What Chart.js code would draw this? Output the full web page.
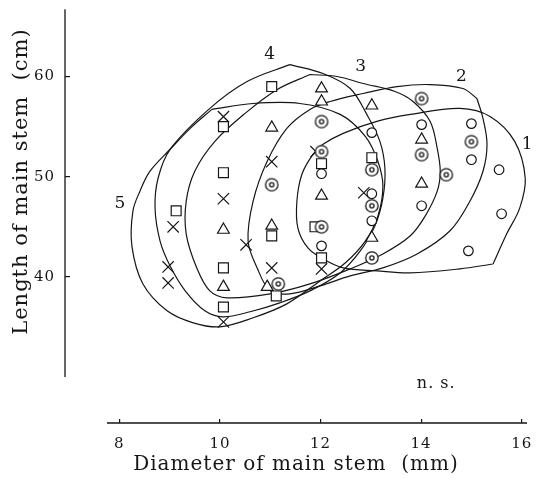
<!DOCTYPE html>
<html>
<head>
<meta charset="utf-8">
<script src="https://cdn.jsdelivr.net/npm/chart.js@4.4.0/dist/chart.umd.min.js"></script>
<style>
  html, body { margin: 0; padding: 0; background: #fff; }
  #wrap { width: 540px; height: 480px; }
</style>
</head>
<body>
<div id="wrap"><canvas id="stemChart"></canvas></div>
<script>
const xTicks = [8, 10, 12, 14, 16];
const yTicks = [40, 50, 60];

// [diameter of main stem (mm), length of main stem (cm)] per group
const group1 = [[12.02, 50.3], [12.02, 43.1], [13.02, 54.4], [13.02, 48.3], [13.02, 45.6], [14.01, 55.2],
  [14.01, 47.1], [15.0, 55.3], [15.0, 51.7], [14.94, 42.6], [15.55, 50.7], [15.6, 46.3]];
const group2 = [[11.16, 39.3], [12.02, 55.5], [12.02, 52.5], [12.02, 45.0], [13.02, 50.7], [13.02, 47.1],
  [13.02, 41.9], [14.01, 57.8], [14.01, 52.2], [14.5, 50.2], [15.0, 53.5], [11.03, 49.2]];
const group3 = [[12.02, 58.8], [12.02, 57.5], [12.02, 48.1], [13.02, 57.1], [13.02, 43.9], [14.01, 53.7],
  [14.01, 49.3], [11.03, 54.9], [11.03, 45.1], [10.94, 39.0], [10.07, 44.7], [10.07, 39.0]];
const group4 = [[11.03, 59.0], [10.07, 55.0], [10.07, 50.4], [10.07, 40.9], [10.07, 37.0], [11.03, 44.1],
  [11.12, 38.1], [12.02, 51.3], [11.89, 45.0], [12.02, 41.9], [13.02, 51.9], [9.13, 46.6]];
const group5 = [[10.07, 56.0], [10.07, 47.8], [10.07, 35.5], [11.03, 51.5], [11.03, 40.9], [11.91, 52.5],
  [12.02, 40.8], [12.86, 48.4], [9.07, 45.0], [8.97, 41.0], [8.97, 39.4], [10.52, 43.2]];

// hand drawn outlines round each group
const outline1 = [[15.43, 41.29], [14.77, 40.8], [13.78, 40.4], [13.12, 40.6], [12.45, 40.9], [12.05, 41.79],
  [11.75, 42.89], [11.55, 44.88], [11.53, 47.56], [11.63, 50.25], [11.85, 52.24], [12.05, 53.23], [12.45, 54.33],
  [13.12, 55.52], [13.79, 56.22], [14.77, 56.82], [15.37, 56.02], [15.86, 53.53], [16.07, 49.85], [15.96, 46.87],
  [15.7, 44.28]];
const outline2 = [[15.11, 57.81], [15.23, 55.82], [15.31, 53.23], [15.23, 50.55], [14.97, 47.56], [14.57, 44.58],
  [13.92, 42.29], [13.24, 40.9], [12.59, 40.1], [11.99, 39.1], [11.39, 38.31], [11.0, 38.61], [10.74, 40.9],
  [10.56, 43.58], [10.66, 47.56], [10.94, 51.54], [11.33, 54.83], [11.79, 56.72], [12.19, 57.51], [12.85, 58.31],
  [13.52, 59.0], [14.18, 59.2], [14.83, 58.81]];
const outline3 = [[11.79, 60.2], [12.33, 60.0], [12.85, 59.3], [13.48, 58.51], [13.84, 57.51], [14.18, 55.52],
  [14.32, 52.84], [14.38, 50.55], [14.32, 48.56], [14.08, 46.07], [13.78, 44.08], [13.24, 42.29], [12.59, 40.8],
  [11.79, 39.3], [11.0, 38.31], [10.14, 37.91], [9.8, 38.61], [9.54, 40.9], [9.33, 44.28], [9.33, 47.56],
  [9.5, 50.55], [9.9, 53.53], [10.5, 56.32], [11.14, 58.71]];
const outline4 = [[11.39, 61.19], [12.05, 60.3], [12.59, 58.81], [12.92, 56.22], [13.18, 53.53], [13.28, 50.85],
  [13.24, 47.86], [13.08, 45.07], [12.79, 42.59], [12.39, 40.4], [11.79, 38.61], [11.19, 37.41], [10.6, 36.52],
  [10.06, 36.02], [9.7, 36.62], [9.31, 38.61], [9.01, 41.09], [8.81, 43.58], [8.71, 46.87], [8.77, 49.85],
  [9.01, 52.74], [9.8, 56.82], [10.54, 59.5]];
const outline5 = [[9.84, 56.72], [10.66, 57.31], [11.59, 57.31], [12.39, 56.22], [12.89, 54.03], [13.14, 51.54],
  [13.24, 49.05], [13.14, 46.07], [12.89, 43.58], [12.49, 41.39], [11.99, 39.6], [11.33, 37.31], [10.66, 35.92],
  [10.0, 35.02], [9.47, 35.42], [8.95, 36.62], [8.47, 39.3], [8.25, 43.08], [8.27, 46.57], [8.41, 48.56],
  [8.61, 50.55], [9.01, 52.74], [9.41, 54.83]];

const groupNames = ['1', '2', '3', '4', '5'];

const ink = '#161616';
const serif = 'DejaVu Serif';

function ringedDot() {
  const c = document.createElement('canvas');
  c.width = 16;
  c.height = 16;
  const g = c.getContext('2d');
  g.strokeStyle = ink;
  g.fillStyle = '#fff';
  g.lineWidth = 1.3;
  g.beginPath();
  g.arc(8, 8, 6.2, 0, Math.PI * 2);
  g.fill();
  g.stroke();
  g.beginPath();
  g.arc(8, 8, 2.1, 0, Math.PI * 2);
  g.stroke();
  return c;
}

const toXY = (pts) => pts.map(([x, y]) => ({ x, y }));

const markerSets = [
  { pts: group1, style: 'circle', r: 4.8 },
  { pts: group2, style: ringedDot(), r: 6.3 },
  { pts: group3, style: 'triangle', r: 6.8 },
  { pts: group4, style: 'rect', r: 7 },
  { pts: group5, style: 'crossRot', r: 8 },
];
const outlines = [outline1, outline2, outline3, outline4, outline5];

const datasets = [];
markerSets.forEach((m, i) => {
  datasets.push({
    label: 'group ' + groupNames[i],
    data: toXY(m.pts),
    pointStyle: m.style,
    pointRadius: m.r,
    pointBorderColor: ink,
    pointBackgroundColor: '#fff',
    pointBorderWidth: 1.2,
    showLine: false,
  });
});
outlines.forEach((o, i) => {
  datasets.push({
    type: 'line',
    label: 'outline ' + groupNames[i],
    data: toXY(o.concat([o[0]])),
    borderColor: ink,
    borderWidth: 1.2,
    pointRadius: 0,
    tension: 0.35,
    fill: false,
  });
});

// where the outline numbers and the note sit, in axis units
const nameAt = [[16.12, 53.2], [14.81, 60.0], [12.81, 61.0], [11.0, 62.2], [8.02, 47.3]];

const frame = {
  id: 'frame',
  beforeDraw(chart) {
    chart.ctx.letterSpacing = '1px';
  },
  afterDatasetsDraw(chart) {
    const { ctx, chartArea, scales: { x, y } } = chart;
    ctx.save();
    ctx.strokeStyle = ink;
    ctx.lineWidth = 1.3;
    ctx.beginPath();
    ctx.moveTo(x.getPixelForValue(7.755), chartArea.bottom);
    ctx.lineTo(chartArea.right, chartArea.bottom);
    ctx.moveTo(chartArea.left, y.getPixelForValue(30));
    ctx.lineTo(chartArea.left, chartArea.top);
    ctx.stroke();
    ctx.fillStyle = ink;
    ctx.textAlign = 'center';
    ctx.textBaseline = 'middle';
    ctx.font = '17px "' + serif + '"';
    groupNames.forEach((t, i) => {
      ctx.fillText(t, x.getPixelForValue(nameAt[i][0]), y.getPixelForValue(nameAt[i][1]));
    });
    ctx.font = '16px "' + serif + '"';
    ctx.fillText('n. s.', x.getPixelForValue(14.3), y.getPixelForValue(29.35));
    ctx.restore();
  },
};

const tickFont = { family: serif, size: 15 };

new Chart(document.getElementById('stemChart'), {
  type: 'scatter',
  data: { datasets },
  plugins: [frame],
  options: {
    responsive: true,
    maintainAspectRatio: false,
    animation: false,
    layout: { padding: { top: 8, right: 13, left: 0, bottom: 0 } },
    plugins: { legend: { display: false }, tooltip: { enabled: false } },
    scales: {
      x: {
        type: 'linear',
        min: 6.92,
        max: 16.105,
        afterBuildTicks: (s) => { s.ticks = xTicks.map((v) => ({ value: v })); },
        afterFit: (s) => {
          s.height = 57;
          s.paddingLeft = 0;
          s.paddingRight = 0;
        },
        border: { display: false },
        grid: { drawOnChartArea: false, drawTicks: true, tickLength: -4, color: ink, lineWidth: 1.2 },
        ticks: { padding: 16, color: ink, font: tickFont, maxRotation: 0 },
        title: {
          display: true,
          text: 'Diameter of main stem  (mm)',
          color: ink,
          font: { family: serif, size: 20 },
          padding: { top: 0, bottom: 3 },
        },
      },
      y: {
        type: 'linear',
        min: 25.42,
        max: 66.72,
        afterBuildTicks: (s) => { s.ticks = yTicks.map((v) => ({ value: v })); },
        afterFit: (s) => {
          s.width = 65;
          s.paddingTop = 0;
          s.paddingBottom = 0;
        },
        border: { display: false },
        grid: { drawOnChartArea: false, drawTicks: true, tickLength: -5, color: ink, lineWidth: 1.2 },
        ticks: { padding: 15, color: ink, font: tickFont },
        title: {
          display: true,
          text: '         Length of main stem  (cm)',
          color: ink,
          font: { family: serif, size: 21 },
          padding: { top: 9, bottom: 0 },
        },
      },
    },
  },
});
</script>
</body>
</html>
